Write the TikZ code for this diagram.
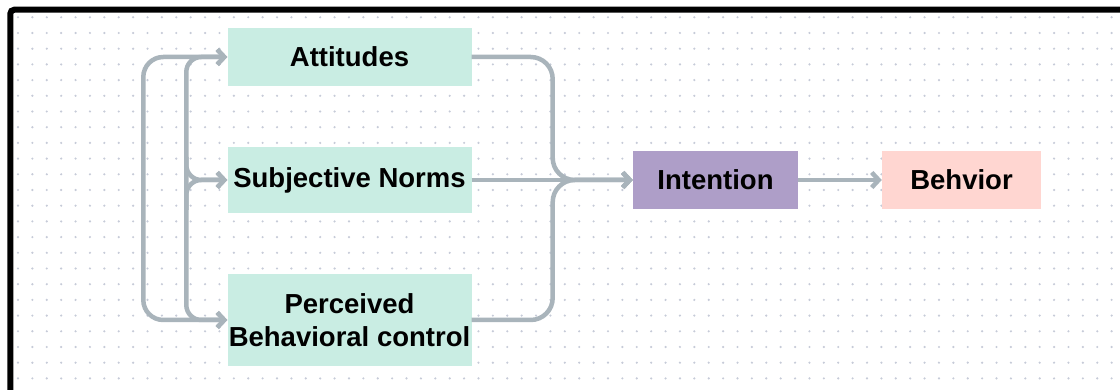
\documentclass[tikz,border=0pt]{standalone}
\usepackage{fontspec}
\setmainfont{Liberation Sans}
\usetikzlibrary{arrows.meta}

\definecolor{boxmint}{HTML}{C9EDE3}
\definecolor{intpurple}{HTML}{AE9EC8}
\definecolor{behpink}{HTML}{FFD6D1}
\definecolor{linkgray}{HTML}{A9B4BB}
\definecolor{dotgray}{HTML}{C6CBD8}

\begin{document}
\begin{tikzpicture}[x=1pt, y=1pt, % 1 unit = 1 pixel of the sketch
    box/.style={fill=boxmint, minimum width=244pt, inner sep=0pt, align=center,
        font=\fontsize{27.5}{33}\selectfont\bfseries},
    link/.style={draw=linkgray, line width=4.5pt},
    >={Straight Barb[length=7pt, width=15pt]}]
            % Page area and dotted canvas
            \clip (0,0) rectangle (1120,390);
            \fill[white] (0,0) rectangle (1120,390);
            \foreach \i in {0,...,76}
                \foreach \j in {0,...,24}
                    \fill[dotgray] (18+\i*14.39, 372.7-\j*15.7) circle (1.2);
            % Frame (cut off at the right and bottom)
            \draw[line width=6pt, rounded corners=4pt] (10.3,380.3) rectangle (1140,-20);

            % The three belief boxes
            \node[box, minimum height=58pt] (att) at (349.5,333) {Attitudes};
            \node[box, minimum height=66pt] (sn) at (349.5,210) {Subjective Norms};
            \node[box, minimum height=92pt] (pbc) at (349.5,70) {Perceived\\Behavioral control};

            % Intention and behaviour
            \node[box, fill=intpurple, minimum width=165pt, minimum height=58pt] (int) at (715.5,210) {Intention};
            \node[box, fill=behpink, minimum width=159pt, minimum height=58pt] (beh) at (961.5,210) {Behvior};

            % Correlations on the left
            \draw[link, <->, rounded corners=20pt] (att.west) -- ++(-84,0) |- (pbc.west);
            \draw[link, <->, rounded corners=15pt] (att.west) -- ++(-41,0) |- (pbc.west);
            \draw[link, ->, rounded corners=15pt] (att.west) ++(-41,-100) |- (sn.west);
            \draw[link, ->, rounded corners=15pt] (pbc.west) ++(-41,110) |- (sn.west);

            % Into intention
            \draw[link, ->, rounded corners=22pt] (att.east) -- ++(81,0) |- (int.west);
            \draw[link, ->, rounded corners=22pt] (pbc.east) -- ++(81,0) |- (int.west);
            \draw[link, ->] (sn.east) -- (int.west);

            \draw[link, ->] (int.east) -- (beh.west);
        \end{tikzpicture}
\end{document}
